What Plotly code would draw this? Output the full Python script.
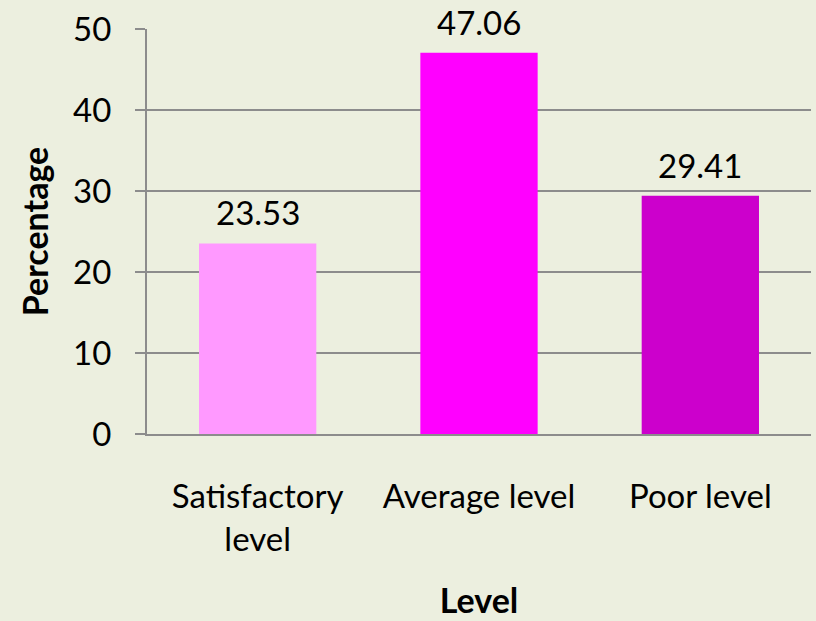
import plotly.graph_objects as go

categories = ["Satisfactory<br>level", "Average level", "Poor level"]
values = [23.53, 47.06, 29.41]
labels = ["23.53", "47.06", "29.41"]
colors = ["#FF99FF", "#FF00FF", "#CC00CC"]
y_ticks = [0, 10, 20, 30, 40, 50]

FONT = "Lato, 'Open Sans', sans-serif"
BG = "#ECEFDF"
GRID = "#8C8C8C"

fig = go.Figure(go.Bar(
    x=categories, y=values, marker_color=colors, marker_line_width=0,
    hoverinfo="x+y",
))

for cat, val, lab in zip(categories, values, labels):
    fig.add_annotation(
        x=cat, y=val, text=lab, showarrow=False, yanchor="middle", yshift=31,
        font=dict(size=33, color="black", family=FONT),
    )

fig.update_layout(
    width=816, height=621,
    paper_bgcolor=BG, plot_bgcolor=BG,
    margin=dict(l=147, r=5, t=29, b=187),
    bargap=0.47,
    showlegend=False,
    font=dict(family=FONT, color="black"),
)
fig.update_yaxes(
    range=[0, 50], tickvals=y_ticks, showgrid=True, gridcolor=GRID, gridwidth=1.5,
    showline=True, linecolor=GRID, linewidth=2, ticks="outside", ticklen=10,
    tickcolor=GRID, tickwidth=1.5, tickfont=dict(size=33), ticklabelstandoff=17,
    zeroline=False,
    title=dict(text="<b>Percentage</b>", font=dict(size=34), standoff=14),
)
fig.update_xaxes(
    showline=True, linecolor=GRID, linewidth=2, ticks="",
    tickfont=dict(size=33), ticklabelstandoff=32,
    title=dict(text="<b>Level</b>", font=dict(size=34), standoff=33),
)

fig.write_html(
    "out.html",
    config={"displayModeBar": False},
    post_script="document.body.style.margin='0';document.body.style.background='%s';" % BG,
)
